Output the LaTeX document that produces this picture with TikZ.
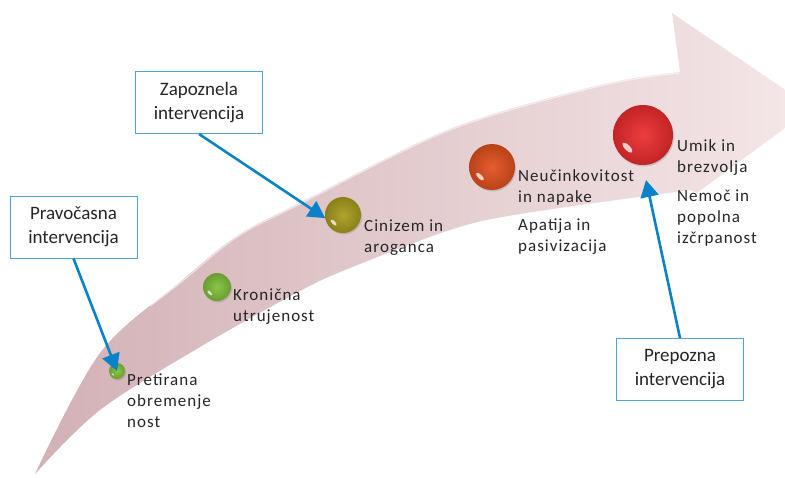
\documentclass[tikz,border=0pt]{standalone}
\usepackage{fontspec}
\setmainfont{Carlito}
\newfontfamily\labfont[LetterSpace=6]{Carlito}
\usetikzlibrary{arrows.meta,shadows}
\definecolor{pinkL}{RGB}{210,177,181}
\definecolor{pinkR}{RGB}{245,231,232}
\definecolor{connblue}{RGB}{8,131,201}
\definecolor{boxblue}{RGB}{78,162,216}
\definecolor{txtgray}{RGB}{38,38,38}
\definecolor{ballgreen}{RGB}{128,192,58}
\definecolor{ballolive}{RGB}{168,156,28}
\definecolor{ballorange}{RGB}{226,80,30}
\definecolor{ballred}{RGB}{236,44,46}
\tikzset{
  lab/.style={anchor=north west, inner sep=0pt, align=left, text=txtgray,
    font=\labfont\fontsize{17}{21}\selectfont, execute at begin node={\rule{0pt}{13pt}}},
  ibox/.style={draw=boxblue, line width=1pt, fill=white, minimum width=127pt,
    minimum height=62pt, inner sep=0pt, align=center, text=txtgray,
    font=\fontsize{19}{24}\selectfont},
  conn/.style={draw=connblue, line width=2.6pt, -{Triangle[length=17pt,width=18pt]}},
  ballnode/.style 2 args={circle, inner sep=0pt, outer sep=0pt, minimum size=#1,
    shading=radial, inner color=#2!92!white, outer color=#2!82!black,
    drop shadow={shadow xshift=1pt, shadow yshift=-1.5pt, opacity=0.3}}
}
\newcommand\glossball[5]{%
  \node[ballnode={2*#4 pt}{#5}] (#1) at (#2,#3) {};
  \fill[white, opacity=0.75, rotate around={-45:({#2-0.52*#4},{#3+0.42*#4})}]
    ({#2-0.52*#4},{#3+0.42*#4}) ellipse [x radius={0.22*#4}, y radius={0.09*#4}];
}
\begin{document}
\begin{tikzpicture}[x=1pt,y=-1pt]
\useasboundingbox (0,0) rectangle (785,477);
\begin{scope}
\clip (0,0) rectangle (785,477);
\shade[left color=pinkL, right color=pinkR]
  plot[smooth, tension=0.55] coordinates {(35,474) (100,353) (180,282) (237,236) (300,203) (450,129) (600,85) (680,72)}
  -- (672,13) -- (812,108) -- (697,193)
  -- plot[smooth, tension=0.55] coordinates {(690,190) (520,214) (450,230) (350,268) (300,291) (200,347) (100,410) (35,474)}
  -- cycle;
\draw[white, opacity=0.6, line width=1.2pt]
  plot[smooth, tension=0.55] coordinates {(150,306) (180,283) (237,237) (300,204) (450,130) (600,86) (679,73)};
\end{scope}

\glossball{b1}{117}{371}{8}{ballgreen}
\glossball{b2}{217}{287}{14}{ballgreen}
\glossball{b3}{343}{215}{18}{ballolive}
\glossball{b4}{492}{167}{23}{ballorange}
\glossball{b5}{643}{135}{30}{ballred}

\node[lab] (l1) at (127,374) {Pretirana\\obremenje\\nost};
\node[lab] (l2) at (233,289) {Kronična\\utrujenost};
\node[lab] (l3) at (364,220) {Cinizem in\\aroganca};
\node[lab] (l4) at (518,169) {Neučinkovitost\\in napake};
\node[lab] (l5) at (518,219) {Apatija in\\pasivizacija};
\node[lab] (l6) at (677,139) {Umik in\\brezvolja};
\node[lab] (l7) at (677,190) {Nemoč in\\popolna\\izčrpanost};

\node[ibox] (pb) at (73.5,227) {Pravočasna\\intervencija};
\node[ibox] (zb) at (199,102.5) {Zapoznela\\intervencija};
\node[ibox] (ppb) at (680,369.5) {Prepozna\\intervencija};

\coordinate (t3) at (646,180);
\draw[conn] (pb.south) -- (b1.center);
\draw[conn] (zb.south) -- (b3.190);
\draw[conn] (ppb.north) -- (t3);
\end{tikzpicture}
\end{document}
